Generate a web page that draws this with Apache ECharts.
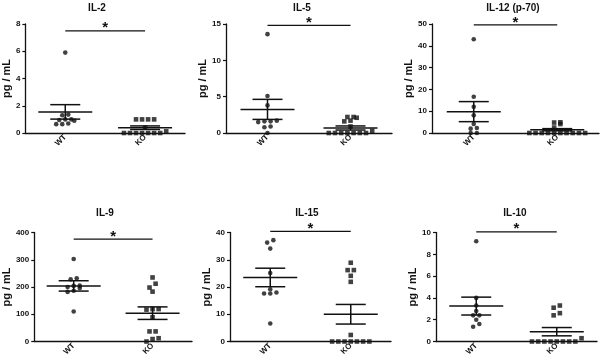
<!DOCTYPE html>
<html>
<head>
<meta charset="utf-8">
<script src="https://cdn.jsdelivr.net/npm/echarts@6/dist/echarts.min.js"></script>
<style>
  html, body { margin: 0; padding: 0; background: #fff; }
  #chart { width: 600px; height: 361px; }
</style>
</head>
<body>
<div id="chart"></div>
<script>
// panel names, groups and axis ranges
var panelNames = ['IL-2', 'IL-5', 'IL-12 (p-70)', 'IL-9', 'IL-15', 'IL-10'];
var groups = ['WT', 'KO'];
var yMax = [8, 15, 50, 400, 40, 10];
var yStep = [2, 5, 10, 100, 10, 2];

// individual values
var il2WT = [5.9, 1.35, 1.3, 1.0, 1.0, 0.95, 0.9, 0.7, 0.65, 0.65];
var il2KO = [1.0, 1.0, 1.0, 1.0, 0.4, 0.12, 0, 0, 0, 0, 0, 0, 0];
var il5WT = [13.6, 5.1, 3.8, 1.7, 1.6, 1.6, 1.5, 0.9, 0.8, 0];
var il5KO = [2.2, 2.2, 2.1, 1.7, 1.6, 0.9, 0.3, 0, 0, 0, 0, 0, 0, 0];
var il12WT = [43, 16.6, 12, 8.1, 4.1, 2.3, 2.0, 0, 0];
var il12KO = [4.9, 4.8, 4.1, 2.5, 0, 0, 0, 0, 0, 0, 0, 0, 0, 0];
var il9WT = [303, 232, 228, 205, 204, 200, 196, 186, 182, 110];
var il9KO = [235, 212, 198, 183, 119, 119, 117, 89, 37, 37, 12, 9, 0];
var il15WT = [37.2, 36.3, 34.1, 25.1, 19.2, 18.0, 17.6, 17.6, 6.6];
var il15KO = [28.9, 26.2, 26.2, 24.1, 21.9, 2.4, 0, 0, 0, 0, 0, 0, 0];
var il10WT = [9.2, 4.0, 3.3, 2.8, 2.4, 2.4, 2.0, 1.6, 1.35];
var il10KO = [3.3, 3.1, 2.6, 2.4, 0.3, 0, 0, 0, 0, 0, 0, 0, 0];

// mean +/- SEM as drawn
var wtMean = [1.55, 3.25, 9.8, 204, 23.5, 3.25];
var wtSem = [0.53, 1.38, 4.6, 19, 3.4, 0.82];
var koMean = [0.39, 0.69, 1.5, 104, 10, 0.9];
var koSem = [0.13, 0.28, 0.5, 23, 3.6, 0.38];

// height of the significance bar
var sigY = [7.5, 14.8, 49.6, 376, 40.4, 10.06];

var wtValues = [il2WT, il5WT, il12WT, il9WT, il15WT, il10WT];
var koValues = [il2KO, il5KO, il12KO, il9KO, il15KO, il10KO];

var grids = [
  {left: 21, top: 24, width: 164, height: 109},
  {left: 226, top: 24, width: 166, height: 109},
  {left: 432, top: 24, width: 167, height: 109},
  {left: 31, top: 232.5, width: 161, height: 109},
  {left: 230, top: 232.5, width: 161, height: 109},
  {left: 436, top: 232.5, width: 161, height: 109}
];
var nameGaps = [9, 10, 11, 19, 15, 14];
var titlePos = [[97, 8], [302, 8], [513, 8], [105, 213], [307, 213], [515, 213]];

var FONT = '"Liberation Sans", Arial, sans-serif';
var INK = '#111';
var DOT = 4.6;      // symbol size
var SPACING = 6.2;  // horizontal spacing of points in a row

// prism-like spreading: values close in pixels share a row
function spread(values, g, p) {
  var pxPerUnit = grids[p].height / yMax[p];
  var pxPerX = grids[p].width / 2;
  var sorted = values.slice().sort(function (a, b) { return a - b; });
  var rows = [];
  sorted.forEach(function (v) {
    var row = rows[rows.length - 1];
    if (row && (v - row[0]) * pxPerUnit < 4) row.push(v);
    else rows.push([v]);
  });
  var out = [];
  rows.forEach(function (row) {
    row.forEach(function (v, i) {
      var off = (i - (row.length - 1) / 2) * SPACING;
      out.push([g + off / pxPerX, v]);
    });
  });
  return out;
}

var xAxes = [], yAxes = [], series = [], graphics = [];

grids.forEach(function (gr, p) {
  xAxes.push({
    type: 'category', gridIndex: p, data: groups,
    axisLine: {lineStyle: {color: INK, width: 1.3}},
    axisTick: {alignWithLabel: true, length: 3, lineStyle: {color: INK, width: 1.2}},
    axisLabel: {rotate: 45, fontSize: 8, fontWeight: 'bold', color: INK, fontFamily: FONT, margin: 3}
  });
  xAxes.push({
    type: 'value', gridIndex: p, min: -0.5, max: 1.5, show: false
  });
  yAxes.push({
    type: 'value', gridIndex: p, min: 0, max: yMax[p], interval: yStep[p],
    name: 'pg / mL', nameLocation: 'middle', nameGap: nameGaps[p],
    nameTextStyle: {fontSize: 11, fontWeight: 'bold', color: INK, fontFamily: FONT},
    splitLine: {show: false},
    axisLine: {show: true, onZero: false, lineStyle: {color: INK, width: 1.3}},
    axisTick: {show: true, length: 3, lineStyle: {color: INK, width: 1.2}},
    axisLabel: {fontSize: 8, fontWeight: 'bold', color: INK, fontFamily: FONT, margin: 5}
  });

  series.push({
    type: 'scatter', xAxisIndex: p * 2 + 1, yAxisIndex: p,
    symbol: 'circle', symbolSize: DOT, itemStyle: {color: INK},
    data: spread(wtValues[p], 0, p), silent: true
  });
  series.push({
    type: 'scatter', xAxisIndex: p * 2 + 1, yAxisIndex: p,
    symbol: 'rect', symbolSize: DOT, itemStyle: {color: INK},
    data: spread(koValues[p], 1, p), silent: true
  });

  // mean +/- SEM bars
  series.push({
    type: 'custom', xAxisIndex: p * 2 + 1, yAxisIndex: p, silent: true,
    data: [[0, wtMean[p], wtSem[p]], [1, koMean[p], koSem[p]]],
    renderItem: function (params, api) {
      var g = api.value(0), m = api.value(1), s = api.value(2);
      var c = api.coord([g, m]);
      var hi = api.coord([g, m + s]);
      var lo = api.coord([g, Math.max(0, m - s)]);
      var st = {stroke: INK, lineWidth: 1.5};
      return {
        type: 'group',
        children: [
          {type: 'line', shape: {x1: c[0] - 27, y1: c[1], x2: c[0] + 27, y2: c[1]}, style: st},
          {type: 'line', shape: {x1: c[0], y1: hi[1], x2: c[0], y2: lo[1]}, style: st},
          {type: 'line', shape: {x1: c[0] - 15, y1: hi[1], x2: c[0] + 15, y2: hi[1]}, style: st},
          {type: 'line', shape: {x1: c[0] - 15, y1: lo[1], x2: c[0] + 15, y2: lo[1]}, style: st}
        ]
      };
    }
  });

  // significance bar with star
  series.push({
    type: 'custom', xAxisIndex: p * 2 + 1, yAxisIndex: p, silent: true,
    data: [[0, 1, sigY[p]]],
    renderItem: function (params, api) {
      var a = api.coord([api.value(0), api.value(2)]);
      var b = api.coord([api.value(1), api.value(2)]);
      return {
        type: 'group',
        children: [
          {type: 'line', shape: {x1: a[0], y1: a[1], x2: b[0], y2: b[1]}, style: {stroke: INK, lineWidth: 1.2}},
          {type: 'text', x: (a[0] + b[0]) / 2, y: a[1] - 10,
           style: {text: '*', fill: INK, font: 'bold 15px ' + FONT, textAlign: 'center', textVerticalAlign: 'top'}}
        ]
      };
    }
  });

  graphics.push({
    type: 'text', x: titlePos[p][0], y: titlePos[p][1],
    style: {text: panelNames[p], fill: INK, font: 'bold 10px ' + FONT, textAlign: 'center', textVerticalAlign: 'middle'}
  });
});

var chart = echarts.init(document.getElementById('chart'));
chart.setOption({
  animation: false,
  backgroundColor: '#fff',
  grid: grids,
  xAxis: xAxes,
  yAxis: yAxes,
  series: series,
  graphic: graphics
});
</script>
</body>
</html>
